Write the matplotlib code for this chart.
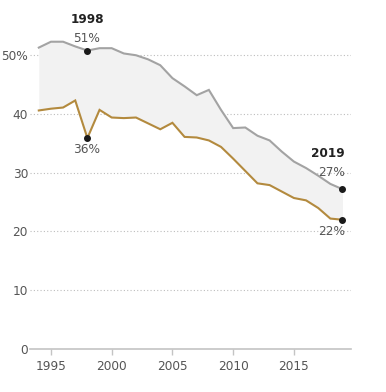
import matplotlib
matplotlib.use("Agg")
import matplotlib.pyplot as plt

years = list(range(1994, 2020))
upper = [51.3, 52.3, 52.3, 51.5, 50.8, 51.2, 51.2, 50.3, 50.0, 49.3, 48.3, 46.1, 44.7, 43.2,
         44.1, 40.7, 37.6, 37.7, 36.3, 35.5, 33.6, 31.9, 30.8, 29.5, 28.1, 27.2]
lower = [40.6, 40.9, 41.1, 42.3, 35.9, 40.7, 39.4, 39.3, 39.4, 38.4, 37.4, 38.5, 36.1, 36.0,
         35.5, 34.4, 32.4, 30.3, 28.2, 27.9, 26.8, 25.7, 25.3, 24.0, 22.2, 22.0]
yticks = [0, 10, 20, 30, 40, 50]
ytick_labels = ["0", "10", "20", "30", "40", "50%"]
xticks = [1995, 2000, 2005, 2010, 2015]

fig = plt.figure(figsize=(3.86, 3.92), dpi=100)
ax = fig.add_axes([30/386, 43/392, 321/386, 339/392])
ax.set_xlim(1993.276, 2019.70)
ax.set_ylim(0, 57.7)

ax.fill_between(years, lower, upper, color="#f2f2f2", lw=0, zorder=1)
for y in yticks[1:]:
    ax.axhline(y, color="#bdbdbd", lw=0.8, ls=(0, (1, 2)), zorder=0.5)
ax.plot(years, upper, color="#a3a3a3", lw=1.5, zorder=3, solid_joinstyle="miter")
ax.plot(years, lower, color="#b38a3e", lw=1.5, zorder=3, solid_joinstyle="miter")

i98 = years.index(1998)
i19 = years.index(2019)
ax.scatter([1998, 1998, 2019, 2019], [upper[i98], lower[i98], upper[i19], lower[i19]],
           s=16, color="#1a1a1a", zorder=5, clip_on=False)

txt = "#555555"
fs = 8.7
ax.text(1998, 56.0, "1998", ha="center", va="center", fontsize=fs, fontweight="bold", color="#222222")
ax.text(1997.9, 52.9, f"{round(upper[i98])}%", ha="center", va="center", fontsize=fs, color=txt)
ax.text(1997.9, 33.9, f"{round(lower[i98])}%", ha="center", va="center", fontsize=fs, color=txt)
ax.text(2019.2, 33.2, "2019", ha="right", va="center", fontsize=fs, fontweight="bold", color="#222222")
ax.text(2019.2, 30.1, f"{round(upper[i19])}%", ha="right", va="center", fontsize=fs, color=txt)
ax.text(2019.2, 20.0, f"{round(lower[i19])}%", ha="right", va="center", fontsize=fs, color=txt)

for s in ["top", "right", "left"]:
    ax.spines[s].set_visible(False)
ax.spines["bottom"].set_color("#c4c4c4")
ax.spines["bottom"].set_linewidth(1.2)
ax.set_xticks(xticks)
ax.set_xticklabels([str(x) for x in xticks])
ax.tick_params(axis="x", length=4, width=1, color="#c4c4c4", pad=4, labelsize=fs, labelcolor=txt)
ax.set_yticks(yticks)
ax.set_yticklabels(ytick_labels)
ax.tick_params(axis="y", length=0, pad=1.5, labelsize=fs, labelcolor=txt)

fig.savefig("out.png", dpi=100, facecolor="white")
